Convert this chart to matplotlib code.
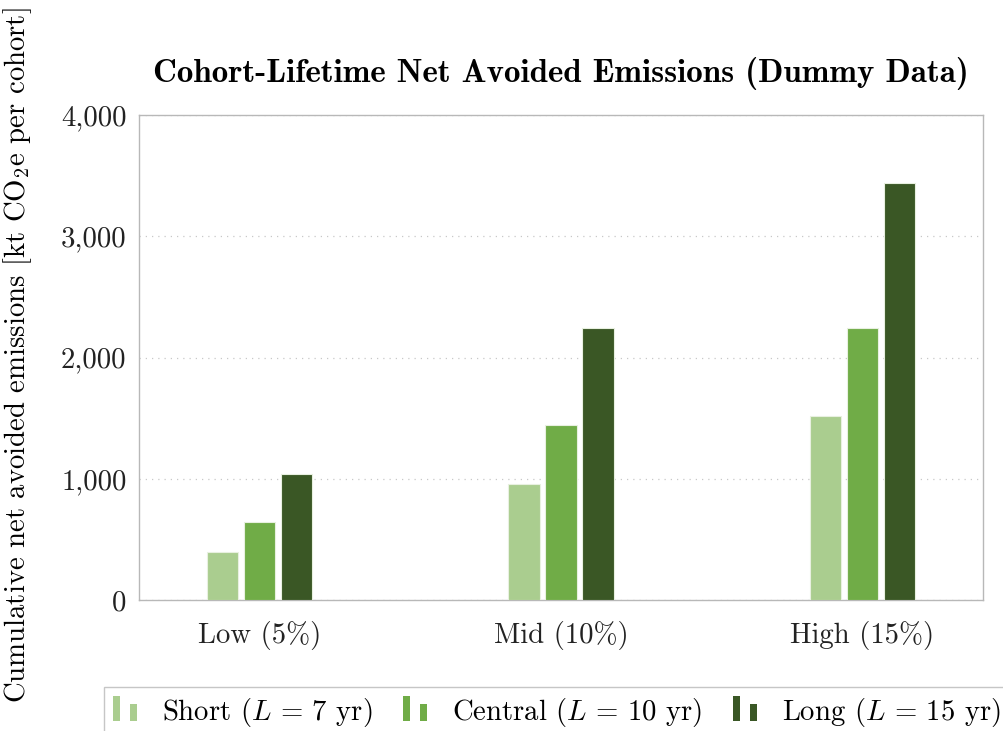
import matplotlib
matplotlib.use("Agg")
import matplotlib.pyplot as plt
import numpy as np
from matplotlib.patches import Rectangle
from matplotlib.legend_handler import HandlerBase
from matplotlib.ticker import FuncFormatter, MultipleLocator

plt.rcParams['font.family'] = ['cmr10']
plt.rcParams['mathtext.fontset'] = 'cm'
plt.rcParams['axes.formatter.use_mathtext'] = True

categories = ["Low (5%)", "Mid (10%)", "High (15%)"]
series_names = ["Short ($L\\,=\\,7$ yr)", "Central ($L\\,=\\,10$ yr)", "Long ($L\\,=\\,15$ yr)"]
short_vals = [400, 960, 1520]
central_vals = [640, 1440, 2240]
long_vals = [1040, 2240, 3440]
colors = ["#aacd8f", "#70ac47", "#3a5725"]

FS = 20.7

fig = plt.figure(figsize=(10.04, 7.31), dpi=100)
ax = fig.add_axes([139/1004, 1 - 600/731, (983-139)/1004, (600-115)/731])

x = np.arange(len(categories))
width = 0.105
offset = 0.123
bars = []
for i, (vals, c, name) in enumerate(zip([short_vals, central_vals, long_vals], colors, series_names)):
    b = ax.bar(x + (i - 1) * offset, vals, width, color=c, edgecolor="#e8f0e0", linewidth=0.8,
               label=name, zorder=3)
    bars.append(b)

ax.set_xlim(-0.40, 2.40)
ax.set_ylim(0, 4000)
ax.yaxis.set_major_locator(MultipleLocator(1000))
ax.yaxis.set_major_formatter(FuncFormatter(lambda v, p: f"{int(v):,}"))
ax.set_xticks(x)
ax.set_xticklabels(categories)
ax.tick_params(axis='both', length=0, labelsize=FS, colors="#222222")
ax.tick_params(axis='x', pad=15)
ax.tick_params(axis='y', pad=9)
ax.grid(axis='y', linestyle=(0, (1, 4)), color="#c8c8c8", linewidth=0.9, zorder=0)
for s in ax.spines.values():
    s.set_color("#b8b8b8")
    s.set_linewidth(1.0)

ax.set_title("Cohort-Lifetime Net Avoided Emissions (Dummy Data)", fontfamily='cmb10',
             fontsize=23.8, pad=24)
ax.set_ylabel("Cumulative net avoided emissions [kt CO$_2$e per cohort]", fontsize=FS)
ax.yaxis.set_label_coords(-0.124, 0.505)


class BarIconHandler(HandlerBase):
    def create_artists(self, legend, orig_handle, xdescent, ydescent, width, height, fontsize, trans):
        c = orig_handle.patches[0].get_facecolor()
        x0 = -xdescent
        y0 = -ydescent - 1
        r1 = Rectangle((x0, y0), width * 0.29, height * 1.25, facecolor=c, edgecolor='none', transform=trans)
        r2 = Rectangle((x0 + width * 0.71, y0), width * 0.29, height * 0.85, facecolor=c, edgecolor='none', transform=trans)
        return [r1, r2]


leg = fig.legend(handles=bars, labels=series_names, loc='upper left',
                 bbox_to_anchor=(104/1004, 44/731), ncol=3, frameon=True, fancybox=False,
                 fontsize=FS, handler_map={type(bars[0]): BarIconHandler()},
                 handlelength=0.85, handletextpad=0.87, columnspacing=1.05, borderpad=0.3,
                 borderaxespad=0)
leg.get_frame().set_edgecolor("#b8b8b8")
leg.get_frame().set_linewidth(1.0)

fig.savefig("out.png", dpi=100)
